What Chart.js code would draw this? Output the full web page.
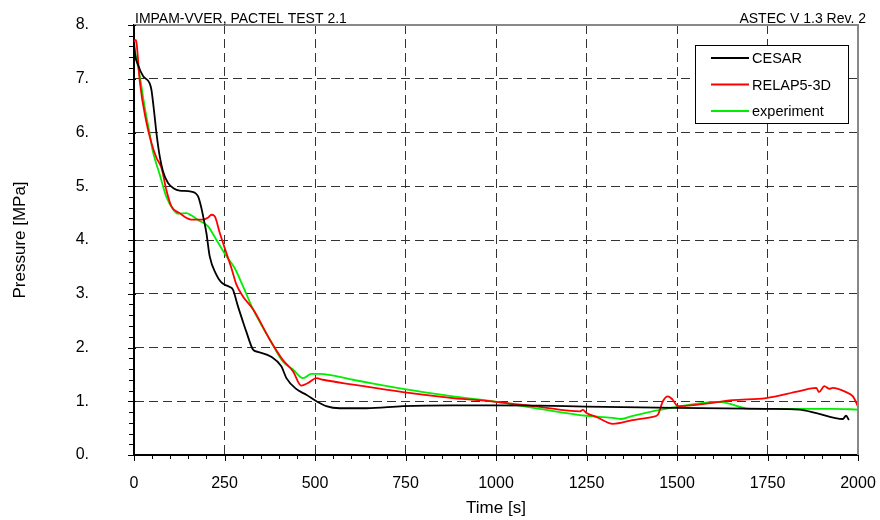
<!DOCTYPE html>
<html>
<head>
<meta charset="utf-8">
<script src="https://cdn.jsdelivr.net/npm/chart.js@4"></script>
<style>
    body { margin: 0; background: #fff; }
    #wrap { width: 880px; height: 520px; }
</style>
</head>
<body>
<div id="wrap"><canvas id="pressure-chart" width="880" height="520"></canvas></div>
<script>

// values
const cesarTime = [0, 3, 11, 25, 43, 48, 57, 62, 71, 80, 94, 110, 126, 158, 177, 186, 191, 200, 209, 227, 240, 250, 263, 273, 287, 300, 310, 329, 342, 379, 407, 421, 448, 476, 504, 531, 568, 642, 743, 881, 1000, 1120, 1250, 1498, 1750, 1838, 1885, 1958, 1967, 1975];
const cesarPressure = [7.68, 7.45, 7.26, 7.05, 6.92, 6.8, 6.3, 5.99, 5.56, 5.28, 5.06, 4.96, 4.92, 4.9, 4.81, 4.6, 4.44, 4.13, 3.7, 3.36, 3.22, 3.17, 3.13, 3.08, 2.77, 2.5, 2.3, 1.96, 1.92, 1.83, 1.65, 1.43, 1.23, 1.12, 1.0, 0.91, 0.87, 0.87, 0.91, 0.925, 0.925, 0.92, 0.9, 0.876, 0.86, 0.845, 0.78, 0.67, 0.73, 0.65];

const relapTime = [0, 2, 6, 10, 16, 34, 48, 62, 76, 89, 103, 126, 158, 190, 205, 214, 223, 237, 255, 269, 283, 301, 329, 375, 411, 439, 462, 481, 504, 522, 605, 743, 881, 1000, 1120, 1231, 1240, 1250, 1277, 1323, 1378, 1433, 1447, 1461, 1475, 1488, 1502, 1562, 1654, 1746, 1838, 1885, 1892, 1907, 1921, 1930, 1967, 1986, 2000];
const relapPressure = [7.55, 7.72, 7.72, 7.45, 6.95, 6.2, 5.81, 5.53, 5.34, 4.94, 4.63, 4.5, 4.38, 4.38, 4.42, 4.47, 4.44, 4.13, 3.76, 3.48, 3.17, 2.95, 2.71, 2.15, 1.77, 1.56, 1.29, 1.34, 1.43, 1.4, 1.31, 1.17, 1.06, 0.99, 0.895, 0.81, 0.84, 0.78, 0.71, 0.58, 0.65, 0.71, 0.75, 1.0, 1.09, 1.03, 0.91, 0.94, 1.02, 1.06, 1.19, 1.25, 1.17, 1.28, 1.23, 1.25, 1.17, 1.09, 0.9];

const expTime = [0, 16, 29, 43, 52, 71, 89, 108, 122, 145, 158, 180, 204, 227, 255, 278, 301, 329, 375, 411, 439, 467, 490, 513, 605, 743, 881, 1000, 1120, 1249, 1286, 1323, 1346, 1378, 1498, 1608, 1636, 1700, 1792, 1930, 2000];
const expPressure = [7.6, 7.05, 6.49, 5.99, 5.65, 5.22, 4.81, 4.57, 4.49, 4.5, 4.46, 4.36, 4.26, 4.01, 3.7, 3.48, 3.14, 2.71, 2.15, 1.74, 1.59, 1.43, 1.51, 1.51, 1.4, 1.23, 1.09, 0.99, 0.86, 0.73, 0.71, 0.69, 0.67, 0.73, 0.895, 0.99, 0.97, 0.86, 0.86, 0.86, 0.845];

const seriesNames = ['CESAR', 'RELAP5-3D', 'experiment'];
const seriesColors = ['#000000', '#ff0000', '#00ee00'];

function toPoints(times, values) {
    return times.map((t, i) => ({ x: t, y: values[i] }));
}

// minor ticks, frame, header texts and the boxed legend
const extras = {
    id: 'extras',
    afterDraw(chart) {
        const ctx = chart.ctx;
        const a = chart.chartArea;
        const xs = chart.scales.x;
        const ys = chart.scales.y;
        ctx.save();

        ctx.strokeStyle = '#888';
        ctx.lineWidth = 2;
        ctx.beginPath();
        ctx.moveTo(a.left, a.top);
        ctx.lineTo(a.right, a.top);
        ctx.lineTo(a.right, a.bottom);
        ctx.stroke();

        ctx.strokeStyle = '#000';
        ctx.lineWidth = 1;
        ctx.beginPath();
        for (let v = 0; v <= 2000; v += 50) {
            const px = Math.round(xs.getPixelForValue(v)) + 0.5;
            ctx.moveTo(px, a.bottom);
            ctx.lineTo(px, a.bottom + (v % 250 === 0 ? 6 : 4));
        }
        for (let k = 0; k <= 40; k++) {
            const py = Math.round(ys.getPixelForValue(k * 0.2)) + 0.5;
            if (k % 5 === 0) {
                ctx.moveTo(a.left - 6, py);
                ctx.lineTo(a.left + 2, py);
            } else {
                ctx.moveTo(a.left - 5, py);
                ctx.lineTo(a.left, py);
            }
        }
        ctx.stroke();

        ctx.fillStyle = '#000';
        ctx.font = '14px "Liberation Sans", Arial, sans-serif';
        ctx.textBaseline = 'alphabetic';
        ctx.textAlign = 'left';
        ctx.fillText('IMPAM-VVER, PACTEL TEST 2.1', a.left + 1, 23);
        ctx.textAlign = 'right';
        ctx.fillText('ASTEC V 1.3 Rev. 2', 866, 23);

        // legend
        const bx = 695.5, by = 45.5, bw = 153, bh = 78;
        ctx.fillStyle = '#fff';
        ctx.fillRect(bx, by, bw, bh);
        ctx.strokeStyle = '#000';
        ctx.lineWidth = 1;
        ctx.strokeRect(bx, by, bw, bh);
        ctx.font = '14.5px "Liberation Sans", Arial, sans-serif';
        ctx.textAlign = 'left';
        ctx.textBaseline = 'middle';
        chart.data.datasets.forEach((ds, i) => {
            const ry = 58 + i * 26.5;
            ctx.strokeStyle = ds.borderColor;
            ctx.lineWidth = 1.8;
            ctx.beginPath();
            ctx.moveTo(711, ry);
            ctx.lineTo(749, ry);
            ctx.stroke();
            ctx.fillStyle = '#000';
            ctx.fillText(ds.label, 752, ry + 1);
        });

        ctx.restore();
    }
};

Chart.defaults.font.family = '"Liberation Sans", Arial, sans-serif';
Chart.defaults.color = '#000';

new Chart(document.getElementById('pressure-chart'), {
    type: 'line',
    data: {
        datasets: [
            { label: seriesNames[0], data: toPoints(cesarTime, cesarPressure), borderColor: seriesColors[0] },
            { label: seriesNames[1], data: toPoints(relapTime, relapPressure), borderColor: seriesColors[1] },
            { label: seriesNames[2], data: toPoints(expTime, expPressure), borderColor: seriesColors[2] }
        ]
    },
    options: {
        responsive: false,
        animation: false,
        layout: { padding: { top: 25, right: 22, left: 0, bottom: 0 } },
        elements: {
            point: { radius: 0 },
            line: { borderWidth: 1.8, cubicInterpolationMode: 'monotone', fill: false }
        },
        plugins: {
            legend: { display: false },
            tooltip: { enabled: false }
        },
        scales: {
            x: {
                type: 'linear',
                min: 0,
                max: 2000,
                ticks: { stepSize: 250, padding: 19, maxRotation: 0, autoSkip: false, font: { size: 16 }, callback: v => String(v) },
                grid: {
                    drawTicks: false,
                    lineWidth: 1,
                    color: c => (c.tick && (c.tick.value === 0 || c.tick.value === 2000)) ? 'rgba(0,0,0,0)' : '#333'
                },
                border: { color: '#000', width: 2, dash: [9, 5] },
                title: { display: true, text: 'Time [s]', font: { size: 17 }, padding: { top: 0, bottom: 1 } },
                afterFit: s => { s.height = 65; s.paddingLeft = 0; s.paddingRight = 0; }
            },
            y: {
                min: 0,
                max: 8,
                ticks: { stepSize: 1, padding: 45, font: { size: 16 }, callback: v => v + '.' },
                grid: {
                    drawTicks: false,
                    lineWidth: 1,
                    color: c => (c.tick && (c.tick.value === 0 || c.tick.value === 8)) ? 'rgba(0,0,0,0)' : '#333'
                },
                border: { color: '#000', width: 2, dash: [9, 5] },
                title: { display: true, text: 'Pressure [MPa]', font: { size: 17 }, padding: { top: 10, bottom: 0 } },
                afterFit: s => { s.width = 134; s.paddingTop = 0; s.paddingBottom = 0; }
            }
        }
    },
    plugins: [extras]
});
</script>
</body>
</html>
